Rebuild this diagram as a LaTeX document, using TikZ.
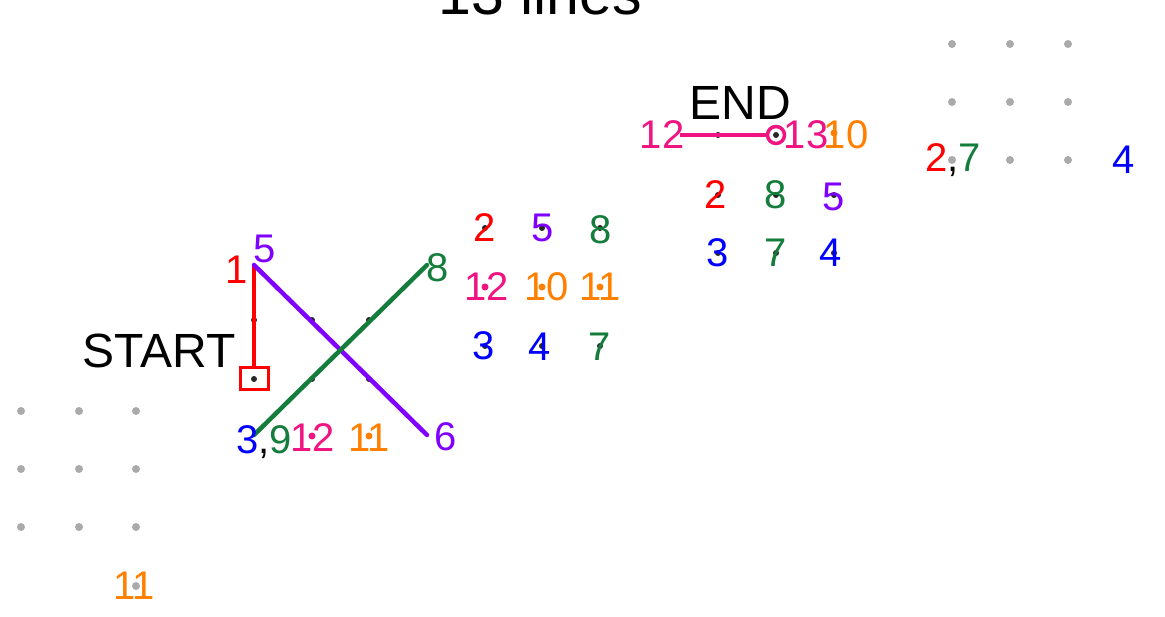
\documentclass[tikz,border=0pt]{standalone}
\usepackage{fontspec}
\setmainfont{Liberation Sans}
\definecolor{cred}{RGB}{255,0,0}
\definecolor{cpurple}{RGB}{127,0,255}
\definecolor{cgreen}{RGB}{20,125,60}
\definecolor{cblue}{RGB}{0,0,255}
\definecolor{cpink}{RGB}{240,20,130}
\definecolor{corange}{RGB}{255,128,0}
\definecolor{cgray}{RGB}{170,170,170}
\begin{document}
\begin{tikzpicture}[x=1pt,y=-1pt,
  lab/.style={inner sep=0pt,anchor=center,font=\fontsize{40}{42}\selectfont},
  big/.style={inner sep=0pt,anchor=base,font=\fontsize{48}{50}\selectfont},
  gdot/.style={circle,fill=cgray,inner sep=0pt,minimum size=8pt},
  bdot/.style={circle,fill=black!85,inner sep=0pt,minimum size=6pt},
  cdot/.style={circle,fill=#1,inner sep=0pt,minimum size=7pt},
  seg/.style={line width=4.5pt,#1}]
\useasboundingbox (0,0) rectangle (1165,617);
% title
\node[inner sep=0pt,anchor=base,font=\fontsize{59}{60}\selectfont] (title) at (540,15) {13 lines};
% bottom-left gray grid
\foreach \i/\x in {1/21,2/79,3/136}{
  \foreach \j/\y in {1/411,2/469,3/527}{
    \node[gdot] (bl\i\j) at (\x,\y) {};
  }
}
\node[gdot] (bl34) at (136,586) {};
\node[lab,text=corange] (l11a) at (134,586) {11};
% top-right gray grid
\foreach \i/\x in {1/952,2/1010,3/1068}{
  \foreach \j/\y in {1/44,2/102,3/160}{
    \node[gdot] (tr\i\j) at (\x,\y) {};
  }
}
\node[lab] (l27) at (953,160) {\textcolor{cred}{2},\textcolor{cgreen}{7}};
\node[lab,text=cblue] (l4c) at (1124,160) {4};
% cross grid points
\coordinate (p11) at (254,265);
\coordinate (p41) at (427,265);
\coordinate (p14) at (254,435);
\coordinate (p44) at (427,435);
\node[bdot] (p12) at (254,320) {};
\node[bdot] (p22) at (312,320) {};
\node[bdot] (p32) at (369,320) {};
\node[bdot] (p23) at (312,379) {};
\node[bdot] (p33) at (369,379) {};
\node[draw=cred,line width=3pt,inner sep=0pt,minimum width=28pt,minimum height=22pt] (sq) at (254,379) {};
\node[bdot] (p13) at (254,379) {};
\draw[seg=cred] (sq.north) -- (p11);
\draw[seg=cpurple,line cap=round] (p11) -- (p44);
\draw[seg=cgreen,line cap=round] (p14) -- (p41);
\node[cdot=cpink] (p24) at (312,436) {};
\node[cdot=corange] (p34) at (369,436) {};
\node[big] (start) at (159,368) {START};
\node[lab,text=cred] (l1) at (237,270) {1};
\node[lab,text=cpurple] (l5) at (265,249) {5};
\node[lab,text=cgreen] (l8) at (438,268) {8};
\node[lab,text=cpurple] (l6) at (446,437) {6};
\node[lab,text depth=0pt] (l39) at (264,440) {\textcolor{cblue}{3},\textcolor{cgreen}{9}};
\node[lab,text=cpink] (l12a) at (313,438) {12};
\node[lab,text=corange] (l11b) at (369,438) {11};
% middle grid
\node[bdot] (m11) at (485,228) {};
\node[bdot] (m21) at (542,228) {};
\node[bdot] (m31) at (600,228) {};
\node[cdot=cpink] (m12) at (485,287) {};
\node[cdot=corange] (m22) at (542,287) {};
\node[cdot=corange] (m32) at (600,287) {};
\node[bdot] (m13) at (485,346) {};
\node[bdot] (m23) at (542,346) {};
\node[bdot] (m33) at (600,346) {};
\node[lab,text=cred] (ml2) at (485,228) {2};
\node[lab,text=cpurple] (ml5) at (543,228) {5};
\node[lab,text=cgreen] (ml8) at (601,230) {8};
\node[lab,text=cpink] (ml12) at (487,287) {12};
\node[lab,text=corange] (ml10) at (547,287) {10};
\node[lab,text=corange] (ml11) at (600,287) {11};
\node[lab,text=cblue] (ml3) at (484,346) {3};
\node[lab,text=cblue] (ml4) at (540,347) {4};
\node[lab,text=cgreen] (ml7) at (600,347) {7};
% right grid
\coordinate (r01) at (680,135);
\node[bdot] (r11) at (718,135) {};
\node[circle,draw=cpink,line width=3.5pt,inner sep=0pt,minimum size=17pt] (r21) at (776,135) {};
\node[cdot=corange] (r31) at (834,133) {};
\draw[seg=cpink] (r01) -- (r21.west);
\node[bdot] (r21d) at (776,135) {};
\node[bdot] (r12) at (718,195) {};
\node[bdot] (r22) at (776,195) {};
\node[bdot] (r32) at (834,195) {};
\node[bdot] (r13) at (718,253) {};
\node[bdot] (r23) at (776,253) {};
\node[bdot] (r33) at (834,253) {};
\node[big] (end) at (740,120) {END};
\node[lab,text=cpink] (rl12) at (662,135) {12};
\node[lab,text=cpink] (rl13) at (806,135) {13};
\node[lab,text=corange] (rl10) at (846,135) {10};
\node[lab,text=cred] (rl2) at (716,195) {2};
\node[lab,text=cgreen] (rl8) at (776,195) {8};
\node[lab,text=cpurple] (rl5) at (834,197) {5};
\node[lab,text=cblue] (rl3) at (718,253) {3};
\node[lab,text=cgreen] (rl7) at (776,253) {7};
\node[lab,text=cblue] (rl4) at (831,253) {4};
\end{tikzpicture}
\end{document}
